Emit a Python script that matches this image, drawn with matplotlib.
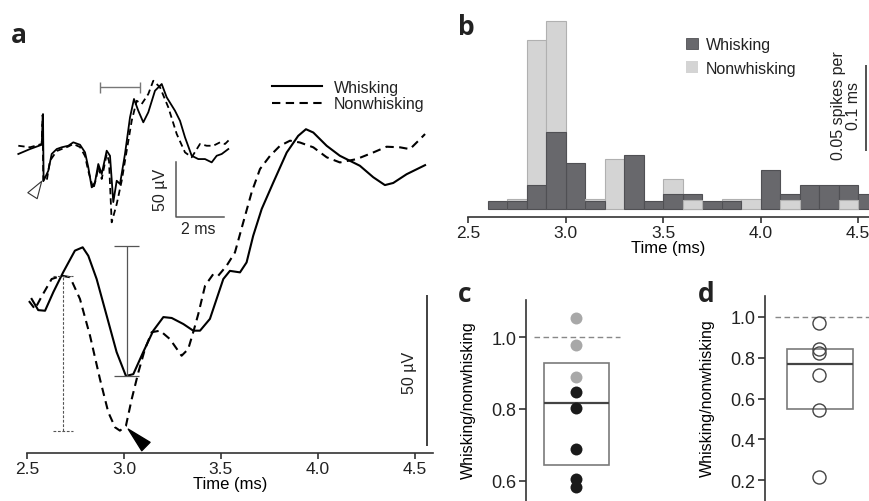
import matplotlib.pyplot as plt
import numpy as np
from matplotlib.lines import Line2D
from matplotlib.patches import Patch, Rectangle

plt.rcParams['font.family'] = ['Liberation Sans', 'DejaVu Sans']
plt.rcParams['text.color'] = '#222222'
plt.rcParams['xtick.color'] = '#333333'
plt.rcParams['ytick.color'] = '#333333'
plt.rcParams['xtick.labelcolor'] = '#222222'
plt.rcParams['ytick.labelcolor'] = '#222222'

# --- panel a, main traces (time in ms, amplitude in uV) ---
t_whisk = [2.524, 2.558, 2.593, 2.636, 2.687, 2.747, 2.787, 2.816, 2.859, 2.911, 2.962,
           3.010, 3.048, 3.099, 3.151, 3.203, 3.246, 3.306, 3.357, 3.392, 3.443, 3.512,
           3.546, 3.598, 3.632, 3.666, 3.710, 3.770, 3.839, 3.898, 3.938, 3.976, 4.045,
           4.113, 4.216, 4.285, 4.345, 4.388, 4.457, 4.552]
v_whisk = [51.0, 47.3, 47.1, 53.3, 59.9, 67.0, 68.1, 65.3, 57.6, 45.4, 33.4,
           25.5, 26.1, 33.4, 40.5, 45.0, 44.7, 42.7, 40.5, 40.5, 44.4, 57.6,
           60.3, 59.8, 63.1, 71.9, 80.8, 89.6, 99.5, 105.0, 107.2, 106.1, 101.7,
           98.4, 95.1, 91.3, 88.7, 89.4, 92.3, 95.3]
t_nonwhisk = [2.510, 2.541, 2.577, 2.627, 2.679, 2.722, 2.773, 2.825, 2.876, 2.919, 2.954,
              2.979, 3.010, 3.040, 3.074, 3.108, 3.143, 3.186, 3.237, 3.297, 3.331, 3.357,
              3.383, 3.418, 3.460, 3.486, 3.529, 3.572, 3.615, 3.658, 3.701, 3.753, 3.804,
              3.856, 3.907, 3.976, 4.045, 4.113, 4.199, 4.285, 4.354, 4.423, 4.474, 4.526,
              4.552]
v_nonwhisk = [50.3, 47.7, 52.0, 57.6, 58.7, 58.2, 51.0, 38.8, 24.5, 13.5, 8.5,
              7.4, 9.0, 17.9, 26.7, 34.4, 40.0, 40.5, 37.7, 32.2, 34.4, 40.0,
              46.0, 55.4, 59.2, 58.7, 62.0, 66.4, 76.4, 86.3, 94.0, 98.4, 101.7,
              103.4, 102.8, 101.2, 97.9, 96.2, 97.3, 99.5, 101.4, 101.2, 100.6, 103.9,
              105.6]

# peak-to-trough amplitude markers: (time, trough, peak)
amp_whisk = (3.014, 25.5, 68.4)
amp_nonwhisk = (2.687, 7.2, 58.7)

# --- panel a, inset: full spike waveform (ms from start, uV) ---
inset_t_whisk = [0.013, 0.5, 0.988, 1.042, 1.067, 1.263, 1.404, 1.613, 1.821, 2.096, 2.304,
                 2.583, 2.792, 2.929, 3.071, 3.208, 3.346, 3.488, 3.696, 3.833, 3.971, 4.113,
                 4.25, 4.458, 4.667, 4.833, 5.013, 5.221, 5.429, 5.708, 5.988, 6.196, 6.542,
                 6.75, 6.958, 7.238, 7.513, 7.792, 8.071, 8.279, 8.488, 8.763]
inset_v_whisk = [68.2, 72.7, 76.6, 104.5, 43.9, 53.0, 68.2, 72.7, 74.3, 75.7, 78.8,
                 76.6, 69.7, 56.1, 37.9, 42.5, 59.1, 50.0, 71.2, 66.6, 24.5, 43.9,
                 40.9, 68.2, 101.5, 118.2, 107.5, 97.0, 106.1, 125.7, 131.8, 119.7, 107.5,
                 98.4, 83.4, 66.6, 63.6, 63.6, 60.6, 66.6, 68.2, 72.7]
inset_t_nonwhisk = [0.013, 0.5, 0.988, 1.025, 1.054, 1.196, 1.333, 1.613, 1.821, 2.096, 2.304,
                    2.583, 2.792, 2.929, 3.138, 3.25, 3.346, 3.488, 3.696, 3.792, 3.904, 4.113,
                    4.321, 4.529, 4.738, 4.946, 5.154, 5.429, 5.638, 5.917, 6.263, 6.613, 6.958,
                    7.238, 7.583, 7.863, 8.138, 8.417, 8.625, 8.833]
inset_v_nonwhisk = [75.7, 74.3, 77.3, 103.6, 43.6, 43.9, 62.1, 70.9, 72.7, 75.0, 77.3,
                    74.5, 66.4, 52.7, 36.4, 45.5, 56.4, 45.5, 68.2, 61.8, 6.1, 22.7,
                    43.9, 71.2, 98.4, 116.6, 113.6, 122.7, 134.8, 128.8, 110.6, 86.4, 69.7,
                    65.2, 77.3, 75.7, 75.7, 78.8, 77.3, 81.8]

# --- panel b: spike histogram, spikes per 0.1 ms bin ---
bin_left = [2.6, 2.7, 2.8, 2.9, 3.0, 3.1, 3.2, 3.3, 3.4, 3.5,
            3.6, 3.7, 3.8, 3.9, 4.0, 4.1, 4.2, 4.3, 4.4, 4.5]
hist_whisk = [0.0045, 0.0045, 0.014, 0.045, 0.027, 0.0045, 0.0, 0.0316, 0.0045, 0.0087,
              0.0087, 0.0045, 0.0045, 0.0, 0.0229, 0.0087, 0.014, 0.014, 0.014, 0.0087]
hist_nonwhisk = [0.0, 0.0058, 0.098, 0.1095, 0.0, 0.0058, 0.029, 0.0, 0.0, 0.0174,
                 0.0054, 0.0, 0.0058, 0.0058, 0.0, 0.0054, 0.0, 0.0, 0.0054, 0.0]

# --- panel c / d: whisking / nonwhisking ratios ---
ratio_c_gray = [1.053, 0.979, 0.889]
ratio_c_black = [0.847, 0.803, 0.688, 0.606, 0.583]
box_c = (0.644, 0.816, 0.928)  # q1, median, q3
ratio_d = [0.972, 0.841, 0.821, 0.715, 0.546, 0.215]
box_d = (0.549, 0.769, 0.844)

DARK = '#68686c'
DARK_EDGE = '#505054'
LIGHT = '#d4d4d4'
LIGHT_EDGE = '#b0b0b0'
SPINE = '#333333'
DASH = (0, (4, 2.6))

W, H = 869, 502
fig = plt.figure(figsize=(W / 100, H / 100), dpi=100)


def px_axes(x0, y0, x1, y1):
    return fig.add_axes([x0 / W, 1 - y1 / H, (x1 - x0) / W, (y1 - y0) / H])


def clean(ax, keep):
    for side, sp in ax.spines.items():
        if side in keep:
            sp.set_color(SPINE)
            sp.set_linewidth(1.2)
        else:
            sp.set_visible(False)
    ax.patch.set_alpha(0)


# ---------------- panel a ----------------
ax_a = px_axes(27, 100, 433, 454)
clean(ax_a, ['bottom'])
ax_a.plot(t_whisk, v_whisk, color='k', lw=1.5)
ax_a.plot(t_nonwhisk, v_nonwhisk, color='k', lw=1.5, ls=DASH)
t0, lo, hi = amp_whisk
ax_a.vlines(t0, lo, hi, color='#555555', lw=0.9)
ax_a.hlines([lo, hi], t0 - 0.064, t0 + 0.064, color='#555555', lw=0.9)
t0, lo, hi = amp_nonwhisk
ax_a.vlines(t0, lo, hi, color='#555555', lw=0.8, ls=(0, (2.5, 1.5)))
ax_a.hlines([lo, hi], t0 - 0.052, t0 + 0.052, color='#555555', lw=0.8, ls=(0, (2.5, 1.5)))
ax_a.annotate('', xy=(3.022, 7.9), xytext=(3.113, 2.15),
              arrowprops=dict(arrowstyle='wedge,tail_width=0.85,shrink_factor=0.5',
                              fc='k', ec='k', shrinkA=0, shrinkB=0, mutation_scale=10))
ax_a.vlines(4.562, 2.3, 52.3, color=SPINE, lw=1.3, clip_on=False)
ax_a.text(4.474, 26.8, '50 µV', rotation=90, ha='center', va='center', fontsize=11.5)
ax_a.set_xlim(2.5, 4.593)
ax_a.set_ylim(0, 117.2)
ax_a.set_xticks([2.5, 3.0, 3.5, 4.0, 4.5])
ax_a.set_xticklabels(['2.5', '3.0', '3.5', '4.0', '4.5'])
ax_a.set_yticks([])
ax_a.tick_params(axis='x', direction='out', length=4.5, width=1.2, pad=1.5, labelsize=12.5)
ax_a.set_xlabel('Time (ms)', fontsize=12, labelpad=0)

handles_a = [Line2D([], [], color='k', lw=1.5), Line2D([], [], color='k', lw=1.5, ls=DASH)]
fig.legend(handles_a, ['Whisking', 'Nonwhisking'], loc='upper left',
           bbox_to_anchor=(272 / W, 1 - 81 / H), frameon=False, fontsize=11.5,
           handlelength=3.1, handletextpad=0.75, labelspacing=0.08,
           borderpad=0, borderaxespad=0)

# inset
ax_in = px_axes(15, 75, 235, 235)
ax_in.axis('off')
ax_in.plot(inset_t_whisk, inset_v_whisk, color='k', lw=1.3)
ax_in.plot(inset_t_nonwhisk, inset_v_nonwhisk, color='k', lw=1.3, ls=(0, (3.5, 2.2)))
ax_in.hlines(129, 3.417, 5.083, color='#777777', lw=1.0)
ax_in.vlines([3.417, 5.083], 124, 134, color='#777777', lw=1.0)
ax_in.plot([6.583, 6.583, 8.583], [60.9, 10.9, 10.9], color='#555555', lw=1.1)
ax_in.text(5.917, 36.4, '50 µV', rotation=90, ha='center', va='center', fontsize=11.5)
ax_in.text(7.5, 0.9, '2 ms', ha='center', va='center', fontsize=11.5)
ax_in.annotate('', xy=(0.9875, 43.4), xytext=(0.604, 30.3),
               arrowprops=dict(arrowstyle='wedge,tail_width=0.8,shrink_factor=0.5',
                               fc='white', ec='#333333', lw=0.8, shrinkA=0, shrinkB=0,
                               mutation_scale=10))
ax_in.set_xlim(-0.125, 9.042)
ax_in.set_ylim(-4.5, 140.9)

# ---------------- panel b ----------------
ax_b = px_axes(468, 15, 869, 218)
clean(ax_b, ['bottom'])
w = np.array(hist_whisk)
n = np.array(hist_nonwhisk)
left = np.array(bin_left)
back = np.maximum(w, n)
front = np.minimum(w, n)
back_is_dark = w >= n
for heights, dark_mask, z in [(back, back_is_dark, 2), (front, ~back_is_dark, 3)]:
    keep = heights > 0
    fc = np.where(dark_mask, DARK, LIGHT)[keep]
    ec = np.where(dark_mask, DARK_EDGE, LIGHT_EDGE)[keep]
    ax_b.bar(left[keep], heights[keep], width=0.1, align='edge', color=fc,
             edgecolor=ec, lw=0.8, zorder=z)
ax_b.vlines(4.541, 0.0337, 0.0837, color=SPINE, lw=1.2, clip_on=False)
ax_b.text(4.438, 0.0605, '0.05 spikes per\n0.1 ms', rotation=90, ha='center', va='center',
          multialignment='center', fontsize=11.5, linespacing=1.05)
ax_b.set_xlim(2.5, 4.556)
ax_b.set_ylim(-0.00465, 0.1134)
ax_b.set_xticks([2.5, 3.0, 3.5, 4.0, 4.5])
ax_b.set_xticklabels(['2.5', '3.0', '3.5', '4.0', '4.5'])
ax_b.set_yticks([])
ax_b.tick_params(axis='x', direction='out', length=4.5, width=1.2, pad=1.5, labelsize=12.5)
ax_b.set_xlabel('Time (ms)', fontsize=12, labelpad=0)
handles_b = [Patch(fc=DARK, ec=DARK_EDGE, lw=0.6), Patch(fc=LIGHT, ec='none')]
ax_b.legend(handles_b, ['Whisking', 'Nonwhisking'], loc='upper left',
            bbox_to_anchor=(686 / W, 1 - 38 / H), bbox_transform=fig.transFigure,
            frameon=False, fontsize=11.5, handlelength=0.75, handleheight=0.75,
            handletextpad=0.5, labelspacing=0.55, borderpad=0, borderaxespad=0)

# ---------------- panel c ----------------
ax_c = px_axes(526, 301, 626, 502)
clean(ax_c, ['left'])
q1, med, q3 = box_c
ax_c.add_patch(Rectangle((0.18, q1), 0.65, q3 - q1, fill=False, ec='#7a7a7a', lw=1.2))
ax_c.hlines(med, 0.18, 0.83, color='#444444', lw=1.6)
ax_c.hlines(1.0, 0.08, 0.94, color='#888888', lw=1.0, ls=(0, (4, 2.5)))
ax_c.plot(np.full(len(ratio_c_gray), 0.5), ratio_c_gray, 'o', ms=8.6, color='#a8a8a8', mec='none')
ax_c.plot(np.full(len(ratio_c_black), 0.5), ratio_c_black, 'o', ms=8.6, color='#1a1a1a', mec='none')
ax_c.set_xlim(0, 1)
ax_c.set_ylim(0.5444, 1.1028)
ax_c.set_xticks([])
ax_c.set_yticks([0.6, 0.8, 1.0])
ax_c.set_yticklabels(['0.6', '0.8', '1.0'])
ax_c.tick_params(axis='y', direction='out', length=5, width=1.2, pad=2, labelsize=13)
ax_c.set_ylabel('Whisking/nonwhisking', fontsize=11.5)
ax_c.yaxis.set_label_coords(-0.5, 0.507)

# ---------------- panel d ----------------
ax_d = px_axes(765, 297, 869, 502)
clean(ax_d, ['left'])
q1, med, q3 = box_d
ax_d.add_patch(Rectangle((0.21, q1), 0.64, q3 - q1, fill=False, ec='#7a7a7a', lw=1.2))
ax_d.hlines(med, 0.21, 0.85, color='#444444', lw=1.6)
ax_d.hlines(1.0, 0.1, 1.0, color='#888888', lw=1.0, ls=(0, (4, 2.5)))
ax_d.plot(np.full(len(ratio_d), 0.52), ratio_d, 'o', ms=9.4, mfc='none', mec='#444444', mew=1.0)
ax_d.set_xlim(0, 1)
ax_d.set_ylim(0.097, 1.103)
ax_d.set_xticks([])
ax_d.set_yticks([0.2, 0.4, 0.6, 0.8, 1.0])
ax_d.set_yticklabels(['0.2', '0.4', '0.6', '0.8', '1.0'])
ax_d.tick_params(axis='y', direction='out', length=5, width=1.2, pad=2, labelsize=13)
ax_d.set_ylabel('Whisking/nonwhisking', fontsize=11.5)
ax_d.yaxis.set_label_coords(-0.486, 0.507)

# panel letters
for letter, x, y in [('a', 11, 43), ('b', 458, 35), ('c', 458, 302), ('d', 698, 302)]:
    fig.text(x / W, 1 - y / H, letter, fontsize=19, fontweight='bold', ha='left',
             va='baseline', family=['Open Sans', 'DejaVu Sans'])

fig.savefig('out.png', dpi=100)
